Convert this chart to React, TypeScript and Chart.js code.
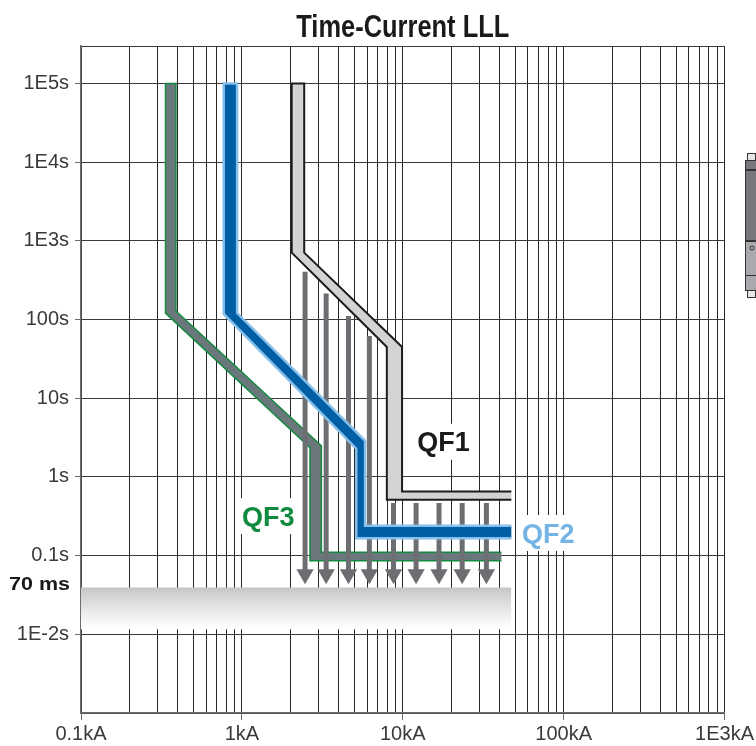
import React, { useEffect, useRef } from 'react';
import { Chart, registerables } from 'chart.js';

Chart.register(...registerables);

// ---- axes ----
const xTickValues = [0.1, 0.2, 0.3, 0.4, 0.5, 0.6, 0.7, 0.8, 0.9, 1, 2, 3, 4, 5, 6, 7, 8, 9, 10, 20, 30, 40, 50, 60, 70, 80, 90, 100, 200, 300, 400, 500, 600, 700, 800, 900, 1000];
const xLabelValues = [0.1, 1, 10, 100, 1000];
const xLabels = ['0.1kA', '1kA', '10kA', '100kA', '1E3kA'];
const yTickValues = [0.001, 0.01, 0.1, 1, 10, 100, 1000, 10000, 100000, 300000];
const yLabelValues = [0.01, 0.1, 1, 10, 100, 1000, 10000, 100000];
const yLabels = ['1E-2s', '0.1s', '1s', '10s', '100s', '1E3s', '1E4s', '1E5s'];

// ---- tripping bands (outline of each band, kA / s) ----
const qf1Current = [47.3, 9.9, 9.9, 2.44, 2.44, 2.04, 2.04, 7.96, 7.96, 47.3];
const qf1Time = [0.651, 0.651, 44.9, 710, 100000, 100000, 710, 44.9, 0.515, 0.515];
const qf2Current = [47.3, 5.83, 5.83, 0.934, 0.934, 0.771, 0.771, 5.14, 5.14, 47.3];
const qf2Time = [0.239, 0.239, 2.88, 121, 100000, 100000, 118, 2.29, 0.1665, 0.1665];
const qf3Current = [41, 3.12, 3.12, 0.389, 0.389, 0.335, 0.335, 2.65, 2.65, 41];
const qf3Time = [0.1104, 0.1104, 2.49, 128.5, 100000, 100000, 121, 2.35, 0.0863, 0.0863];

// ---- arrows ----
const arrowCurrent = [2.47, 3.34, 4.6, 6.2, 8.76, 12.1, 16.8, 23.4, 33.1];
const arrowTopTime = [405, 215, 111, 62, 0.468, 0.468, 0.468, 0.468, 0.468];
const arrowHeadTime = 0.058;

// ---- 70 ms zone ----
const zoneCurrent = [0.1, 47.3];
const zoneTopTime = 0.0395;
const zoneBottomTime = 0.0116;
const zoneLabel = '70 ms';
const zoneLabelTime = 0.044;

// ---- band labels ----
const bandLabels = ['QF1', 'QF2', 'QF3'];
const bandLabelCurrent = [17.9, 80.2, 1.46];
const bandLabelTime = [2.8, 0.194, 0.318];
const bandLabelColors = ['#1a1a1a', '#74b4e4', '#108a3e'];

const titleText = 'Time-Current LLL';
const FONT = '"Liberation Sans", Arial, Helvetica, sans-serif';

const labelFor = (v: number, vals: number[], labels: string[]) => {
  const i = vals.findIndex((t) => Math.abs(t - v) <= t * 1e-6);
  return i >= 0 ? labels[i] : '';
};

const toPoints = (xs: number[], ys: number[]) => xs.map((x, i) => ({ x, y: ys[i] }));

function drawScaledText(ctx: CanvasRenderingContext2D, text: string, x: number, y: number, font: string, targetWidth: number, align: CanvasTextAlign, color: string) {
  ctx.save();
  ctx.font = font;
  const w = ctx.measureText(text).width;
  const s = w > 0 ? targetWidth / w : 1;
  ctx.translate(x, y);
  ctx.scale(s, 1);
  ctx.textAlign = align;
  ctx.textBaseline = 'alphabetic';
  ctx.fillStyle = color;
  ctx.fillText(text, 0, 0);
  ctx.restore();
}

const textPlugin = {
  id: 'tcText',
  beforeDatasetsDraw(chart: any) {
    const { ctx, scales } = chart;
    const x = scales.x;
    const y = scales.y;
    for (let i = 0; i < bandLabels.length; i++) {
      const px = x.getPixelForValue(bandLabelCurrent[i]);
      const py = y.getPixelForValue(bandLabelTime[i]);
      ctx.save();
      ctx.font = `bold 27px ${FONT}`;
      const w = ctx.measureText(bandLabels[i]).width;
      ctx.fillStyle = '#ffffff';
      ctx.fillRect(px - w / 2 - 6, py - 18, w + 12, 36);
      ctx.fillStyle = bandLabelColors[i];
      ctx.textAlign = 'center';
      ctx.textBaseline = 'alphabetic';
      ctx.fillText(bandLabels[i], px, py + 9.7);
      ctx.restore();
    }
  },
  afterDraw(chart: any) {
    const { ctx, chartArea, scales } = chart;
    const y = scales.y;
    // title
    drawScaledText(ctx, titleText, (chartArea.left + chartArea.right) / 2, 36.5, `bold 32px ${FONT}`, 213, 'center', '#1a1a1a');
    // 70 ms label
    const ly = y.getPixelForValue(zoneLabelTime);
    drawScaledText(ctx, zoneLabel, chartArea.left - 11, ly + 6.8, `bold 19px ${FONT}`, 61, 'right', '#1a1a1a');
    // small device picture cut at the right edge
    ctx.save();
    ctx.strokeStyle = '#333';
    ctx.lineWidth = 1;
    ctx.fillStyle = '#e6e6e6';
    ctx.fillRect(747.5, 153.5, 8, 7);
    ctx.strokeRect(747.5, 153.5, 8, 7);
    ctx.fillRect(747.5, 290.5, 8, 7);
    ctx.strokeRect(747.5, 290.5, 8, 7);
    ctx.fillStyle = '#77787b';
    ctx.fillRect(745.5, 160.5, 11, 80);
    ctx.fillStyle = '#a7a9ac';
    ctx.fillRect(745.5, 240.5, 11, 50);
    ctx.strokeRect(745.5, 160.5, 11, 130);
    ctx.lineWidth = 2;
    ctx.beginPath();
    ctx.moveTo(745, 170); ctx.lineTo(756, 170);
    ctx.moveTo(745, 241); ctx.lineTo(756, 241);
    ctx.stroke();
    ctx.lineWidth = 1;
    ctx.beginPath();
    ctx.moveTo(745, 275.5); ctx.lineTo(756, 275.5);
    ctx.stroke();
    ctx.beginPath();
    ctx.arc(752, 248, 2, 0, Math.PI * 2);
    ctx.stroke();
    ctx.restore();
  },
};

export default function App() {
  const ref = useRef<HTMLCanvasElement>(null);

  useEffect(() => {
    const canvas = ref.current;
    if (!canvas) return;

    const band = (xs: number[], ys: number[], fillColor: string, lineColor: string, width: number) => ({
      data: toPoints(xs, ys),
      fill: 'shape',
      backgroundColor: fillColor,
      borderColor: lineColor,
      borderWidth: width,
      borderJoinStyle: 'miter',
      borderCapStyle: 'butt',
      pointRadius: 0,
      tension: 0,
    });

    const arrows = arrowCurrent.map((c, i) => ({
      data: [{ x: c, y: arrowTopTime[i] }, { x: c, y: arrowHeadTime }],
      fill: false,
      borderColor: '#6d6e71',
      borderWidth: 5,
      borderCapStyle: 'butt',
      pointRadius: [0, 10],
      pointStyle: 'triangle',
      pointRotation: 180,
      pointBackgroundColor: '#6d6e71',
      pointBorderColor: '#6d6e71',
      pointBorderWidth: 0,
      tension: 0,
    }));

    const zone = {
      data: zoneCurrent.map((c) => ({ x: c, y: zoneTopTime })),
      fill: { value: zoneBottomTime },
      borderWidth: 0,
      borderColor: 'rgba(0,0,0,0)',
      pointRadius: 0,
      backgroundColor: (context: any) => {
        const ch = context.chart;
        const ys = ch.scales && ch.scales.y;
        if (!ys || !ch.chartArea) return '#d5d6d8';
        const top = ys.getPixelForValue(zoneTopTime);
        const bottom = ys.getPixelForValue(zoneBottomTime);
        const g = ch.ctx.createLinearGradient(0, top, 0, bottom);
        g.addColorStop(0, '#c5c6c8');
        g.addColorStop(0.55, '#e9e9ea');
        g.addColorStop(1, '#ffffff');
        return g;
      },
    };

    const datasets: any[] = [
      band(qf2Current, qf2Time, '#005ea5', '#86bfea', 2.5),
      band(qf1Current, qf1Time, '#d1d3d4', '#1c1c1c', 2),
      ...arrows,
      band(qf3Current, qf3Time, '#6b787b', '#138a3f', 1.5),
      zone,
    ];

    const chart = new Chart(canvas, {
      type: 'line',
      data: { datasets },
      options: {
        responsive: false,
        animation: false,
        events: [],
        layout: { padding: { top: 46, right: 29, left: 0, bottom: 0 } },
        plugins: {
          legend: { display: false },
          tooltip: { enabled: false },
          title: { display: false },
        },
        scales: {
          x: {
            type: 'logarithmic',
            min: 0.1,
            max: 1000,
            afterBuildTicks: (s: any) => {
              s.ticks = xTickValues.map((v) => ({ value: v }));
            },
            afterFit: (s: any) => {
              s.height = 33;
            },
            ticks: {
              autoSkip: false,
              maxRotation: 0,
              minRotation: 0,
              padding: 2,
              color: '#3a3a3a',
              font: { family: FONT, size: 20 },
              callback: (v: any) => labelFor(Number(v), xLabelValues, xLabels),
            },
            grid: {
              color: '#262626',
              lineWidth: 1,
              tickLength: 7,
              tickColor: (c: any) => (c.tick && labelFor(c.tick.value, xLabelValues, xLabels) ? '#6d6d6d' : 'rgba(0,0,0,0)'),
            },
            border: { color: '#6d6d6d', width: 1.5 },
          },
          y: {
            type: 'logarithmic',
            min: 0.001,
            max: 300000,
            afterBuildTicks: (s: any) => {
              s.ticks = yTickValues.map((v) => ({ value: v }));
            },
            afterFit: (s: any) => {
              s.width = 81;
            },
            ticks: {
              autoSkip: false,
              padding: 6,
              color: '#3a3a3a',
              font: { family: FONT, size: 20 },
              callback: (v: any) => labelFor(Number(v), yLabelValues, yLabels),
            },
            grid: {
              color: '#3a3a3a',
              lineWidth: 1,
              tickLength: 6,
              tickColor: (c: any) => (c.tick && labelFor(c.tick.value, yLabelValues, yLabels) ? '#6d6d6d' : 'rgba(0,0,0,0)'),
            },
            border: { color: '#6d6d6d', width: 1.5 },
          },
        },
      } as any,
      plugins: [textPlugin],
    } as any);

    return () => chart.destroy();
  }, []);

  return (
    <div style={{ position: 'absolute', left: 0, top: 0, width: 756, height: 746, background: '#ffffff' }}>
      <canvas ref={ref} width={756} height={746} style={{ display: 'block', width: 756, height: 746 }} />
    </div>
  );
}
